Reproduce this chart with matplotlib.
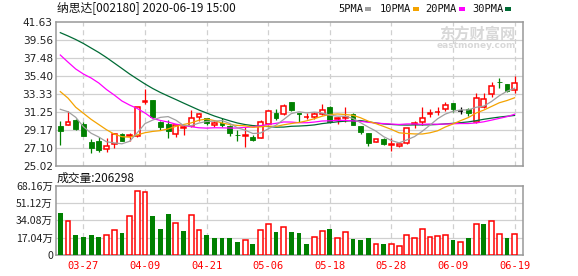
import matplotlib
matplotlib.use('Agg')
import matplotlib.pyplot as plt
from matplotlib.patches import Rectangle
import numpy as np

plt.rcParams['font.family'] = ['Noto Sans CJK SC', 'DejaVu Sans']

# 60 trading days, 2020-03-24 .. 2020-06-19
dates = ['03-24', '03-25', '03-26', '03-27', '03-30', '03-31', '04-01', '04-02',
         '04-03', '04-07', '04-08', '04-09', '04-10', '04-13', '04-14', '04-15',
         '04-16', '04-17', '04-20', '04-21', '04-22', '04-23', '04-24', '04-27',
         '04-28', '04-29', '04-30', '05-06', '05-07', '05-08', '05-11', '05-12',
         '05-13', '05-14', '05-15', '05-18', '05-19', '05-20', '05-21', '05-22',
         '05-25', '05-26', '05-27', '05-28', '05-29', '06-01', '06-02', '06-03',
         '06-04', '06-05', '06-08', '06-09', '06-10', '06-11', '06-12', '06-15',
         '06-16', '06-17', '06-18', '06-19']
label_dates = ['03-27', '04-09', '04-21', '05-06', '05-18', '05-28', '06-09', '06-19']

opens = [29.63, 29.71, 30.35, 29.85, 27.75, 27.94, 26.98, 27.55, 28.67, 28.45,
         28.46, 32.45, 32.63, 30.13, 29.86, 28.67, 29.45, 29.67, 30.71, 30.50,
         29.70, 30.00, 29.63, 28.60, 28.50, 28.40, 28.21, 29.86, 31.17, 31.02,
         32.40, 31.15, 30.65, 30.71, 31.02, 31.86, 30.45, 30.50, 31.00, 29.63,
         28.78, 27.74, 28.13, 27.45, 27.27, 27.63, 29.90, 30.13, 31.05, 31.25,
         31.59, 32.25, 31.40, 31.56, 30.13, 31.79, 33.29, 34.76, 34.44, 33.79]
highs = [30.24, 31.33, 30.47, 30.10, 28.13, 28.33, 28.25, 28.80, 28.80, 28.80,
         31.79, 33.90, 32.63, 30.24, 30.32, 29.86, 29.75, 31.48, 31.17, 30.60,
         30.26, 30.60, 29.75, 29.17, 29.55, 28.60, 30.32, 31.48, 31.60, 32.13,
         32.40, 31.17, 31.10, 31.25, 32.13, 31.94, 30.71, 31.86, 31.17, 29.63,
         28.78, 28.13, 28.20, 28.20, 27.70, 29.44, 30.20, 31.79, 31.56, 31.86,
         32.43, 32.32, 31.79, 31.67, 33.40, 33.40, 34.74, 35.13, 34.44, 35.43]
lows = [27.44, 29.71, 29.17, 28.45, 26.55, 26.67, 26.67, 27.13, 27.90, 27.94,
        28.40, 32.15, 30.63, 29.17, 28.21, 28.40, 28.60, 29.55, 30.24, 29.75,
        29.55, 29.55, 28.50, 27.94, 27.25, 27.90, 28.21, 29.75, 30.32, 30.87,
        31.33, 30.13, 30.45, 30.40, 30.95, 29.94, 29.86, 30.06, 29.75, 28.67,
        27.36, 27.74, 27.45, 26.78, 27.24, 27.56, 29.40, 29.75, 30.70, 30.90,
        31.40, 31.28, 31.02, 30.82, 30.02, 31.67, 32.94, 33.98, 33.60, 33.40]
closes = [29.05, 30.06, 29.25, 28.51, 27.13, 26.86, 27.29, 28.67, 27.94, 28.60,
          31.79, 32.55, 30.71, 29.48, 29.08, 29.75, 29.50, 30.52, 31.02, 30.00,
          29.95, 29.80, 28.86, 28.55, 28.60, 28.02, 30.06, 31.33, 30.59, 31.90,
          31.48, 31.05, 30.72, 31.00, 31.48, 30.13, 30.50, 30.70, 29.75, 28.98,
          27.63, 28.13, 27.52, 27.56, 27.60, 29.36, 30.00, 30.60, 31.10, 31.30,
          32.05, 31.59, 31.40, 31.10, 32.83, 32.71, 34.25, 34.72, 33.70, 34.56]

ma5 = [31.56, 31.28, 30.64, 29.55, 28.80, 28.36, 27.81, 27.69, 27.58, 27.87,
       28.86, 29.91, 30.32, 30.63, 30.72, 30.31, 29.70, 29.67, 29.97, 30.16,
       30.20, 30.26, 29.93, 29.43, 29.15, 28.77, 28.82, 29.31, 29.72, 30.38,
       31.07, 31.27, 31.15, 31.23, 31.15, 30.88, 30.77, 30.76, 30.51, 30.01,
       29.51, 29.04, 28.40, 27.96, 27.69, 28.03, 28.41, 29.02, 29.73, 30.47,
       31.01, 31.33, 31.49, 31.49, 31.79, 31.93, 32.46, 33.12, 33.64, 33.99]
ma10 = [33.60, 32.85, 31.80, 31.10, 30.40, 29.80, 29.20, 28.70, 28.40, 28.34,
        28.61, 28.86, 29.01, 29.10, 29.30, 29.59, 29.81, 29.99, 30.30, 30.44,
        30.26, 29.98, 29.80, 29.70, 29.66, 29.48, 29.54, 29.62, 29.58, 29.77,
        29.92, 30.04, 30.23, 30.48, 30.76, 30.97, 31.02, 30.96, 30.87, 30.58,
        30.19, 29.90, 29.58, 29.24, 28.85, 28.77, 28.72, 28.71, 28.85, 29.08,
        29.52, 29.87, 30.26, 30.61, 31.13, 31.47, 31.89, 32.31, 32.57, 32.89]
ma20 = [37.82, 37.00, 36.21, 35.63, 35.17, 34.59, 33.84, 33.21, 32.52, 32.05,
        31.65, 31.13, 30.50, 30.27, 30.09, 29.85, 29.70, 29.55, 29.43, 29.39,
        29.43, 29.42, 29.40, 29.40, 29.48, 29.53, 29.67, 29.81, 29.94, 30.10,
        30.09, 30.01, 30.01, 30.09, 30.21, 30.23, 30.28, 30.29, 30.22, 30.17,
        30.06, 29.97, 29.91, 29.86, 29.81, 29.87, 29.87, 29.83, 29.86, 29.83,
        29.86, 29.89, 29.92, 29.92, 29.99, 30.12, 30.31, 30.51, 30.71, 30.99]
ma30 = [40.40, 40.02, 39.61, 39.15, 38.63, 38.11, 37.53, 36.90, 36.27, 35.63,
        35.05, 34.48, 33.96, 33.50, 33.09, 32.69, 32.28, 31.88, 31.48, 31.13,
        30.79, 30.50, 30.23, 29.98, 29.80, 29.68, 29.62, 29.57, 29.50, 29.51,
        29.60, 29.63, 29.68, 29.76, 29.91, 30.01, 30.12, 30.19, 30.25, 30.26,
        30.12, 29.98, 29.87, 29.81, 29.76, 29.74, 29.76, 29.76, 29.77, 29.81,
        29.88, 29.94, 30.02, 30.11, 30.25, 30.41, 30.54, 30.66, 30.76, 30.85]

# volume in 万 (10k), 1 = up day (red)
volume = [41.7, 33.4, 19.5, 17.6, 19.5, 17.6, 19.2, 24.2, 21.8, 38.4,
          63.2, 62.2, 38.7, 25.8, 40.7, 31.4, 23.5, 39.4, 24.5, 19.5,
          16.9, 16.9, 16.9, 12.9, 14.6, 10.9, 24.5, 30.8, 22.8, 27.5,
          22.8, 21.8, 10.9, 17.6, 23.5, 25.8, 16.6, 22.5, 15.9, 14.3,
          16.9, 10.6, 10.6, 10.6, 8.6, 19.5, 16.6, 25.5, 17.6, 18.5,
          19.5, 14.6, 12.6, 16.9, 30.5, 30.8, 33.4, 20.5, 16.9, 20.6298]
vol_up = [0, 1, 0, 0, 0, 0, 1, 1, 0, 1, 1, 1, 0, 0, 0, 1, 0, 1, 1, 0,
          0, 0, 0, 0, 1, 0, 1, 1, 0, 1, 0, 0, 0, 1, 1, 0, 1, 1, 0, 0,
          0, 1, 0, 1, 1, 1, 1, 1, 1, 1, 1, 0, 1, 0, 1, 0, 1, 1, 0, 1]

price_ticks = ['25.02', '27.10', '29.17', '31.25', '33.33', '35.40', '37.48', '39.56', '41.63']
vol_ticks = ['0', '17.04万', '34.08万', '51.12万', '68.16万']

RED = '#ff0000'
GREEN = '#008000'
GRID = '#d0d0d0'
FRAME = '#999999'
MA_COLORS = ['#a0a0a0', '#f4a300', '#ff00ff', '#006b35']

W, H = 578, 276
fig = plt.figure(figsize=(W / 100, H / 100), dpi=100)
ax = fig.add_axes([55.7 / W, 1 - 166 / H, 467 / W, 144 / H])
axv = fig.add_axes([55.7 / W, 1 - 254.7 / H, 467 / W, 68.7 / H])

x = np.arange(len(dates))
label_idx = [dates.index(d) for d in label_dates]

for a in (ax, axv):
    a.set_xlim(-0.6, 60.05)
    for s in a.spines.values():
        s.set_color(FRAME)
        s.set_linewidth(1.1)
    for i in label_idx:
        a.axvline(i, color=GRID, lw=0.9, ls=(0, (4, 3)), zorder=0)
    a.set_xticks([])
    a.tick_params(axis='y', length=0, pad=2, labelsize=7.6, labelcolor='#222222')

# price panel
pt = [float(t) for t in price_ticks]
ax.set_ylim(pt[0], pt[-1])
ax.set_yticks(pt)
ax.set_yticklabels(price_ticks, family='DejaVu Sans')
for v in pt[1:-1]:
    ax.axhline(v, color=GRID, lw=0.9, zorder=0)

bw = 0.62
for i in x:
    o, h, l, c = opens[i], highs[i], lows[i], closes[i]
    if c > o:
        col = RED
    elif c < o:
        col = GREEN
    else:
        col = 'black'
    ax.vlines(i, l, h, color=col, lw=0.9, zorder=2)
    if c > o:
        ax.add_patch(Rectangle((i - bw / 2, o), bw, c - o, facecolor='white',
                               edgecolor=col, lw=1.1, zorder=3))
    elif c < o:
        ax.add_patch(Rectangle((i - bw / 2, c), bw, o - c, facecolor=col,
                               edgecolor=col, lw=0.6, zorder=3))
    else:
        ax.hlines(o, i - bw / 2, i + bw / 2, color=col, lw=1.1, zorder=3)

for ma, col in zip([ma30, ma20, ma10, ma5], MA_COLORS[::-1]):
    ax.plot(x, ma, color=col, lw=0.9, zorder=4)

# watermark
ax.text(0.985, 0.915, '东方财富网', transform=ax.transAxes, ha='right', va='center',
        fontsize=11, color='#d8d8d8', fontweight='bold', zorder=1)
ax.text(0.985, 0.835, 'eastmoney.com', transform=ax.transAxes, ha='right', va='center',
        fontsize=6.5, color='#d8d8d8', fontweight='bold', family='DejaVu Sans', zorder=1)

# volume panel
vt = [float(t.rstrip('万')) for t in vol_ticks]
axv.set_ylim(vt[0], vt[-1])
axv.set_yticks(vt)
axv.set_yticklabels(vol_ticks)
for v in vt[1:-1]:
    axv.axhline(v, color=GRID, lw=0.9, zorder=0)
vw = 0.62
for i in x:
    if vol_up[i]:
        axv.add_patch(Rectangle((i - vw / 2, 0), vw, volume[i], facecolor='white',
                                edgecolor=RED, lw=1.1, zorder=3))
    else:
        axv.bar(i, volume[i], width=vw, color=GREEN, zorder=3)

for i, d in zip(label_idx, label_dates):
    fig.text((55.7 + (i + 0.6) * 7.7) / W, 1 - 266 / H, d, ha='center', va='center',
             fontsize=7.5, color=RED, family='DejaVu Sans Mono')

# header texts
fig.text(57 / W, 1 - 8 / H, '纳思达[002180] 2020-06-19 15:00', ha='left', va='center',
         fontsize=8.5, color='#111111')
fig.text(57 / W, 1 - 178 / H, '成交量:206298', ha='left', va='center',
         fontsize=8.5, color='#111111')

legend_items = [('5PMA', 338, 365), ('10PMA', 380, 413), ('20PMA', 425, 459), ('30PMA', 472, 505)]
for (name, tx, sx), col in zip(legend_items, MA_COLORS):
    fig.text(tx / W, 1 - 9 / H, name, ha='left', va='center', fontsize=7.5,
             color='#111111', family='DejaVu Sans Mono')
    fig.patches.append(Rectangle((sx / W, 1 - 10.5 / H), 5.5 / W, 3.5 / H,
                                 transform=fig.transFigure, facecolor=col,
                                 edgecolor='none'))

fig.savefig('out.png', dpi=100, facecolor='white')
